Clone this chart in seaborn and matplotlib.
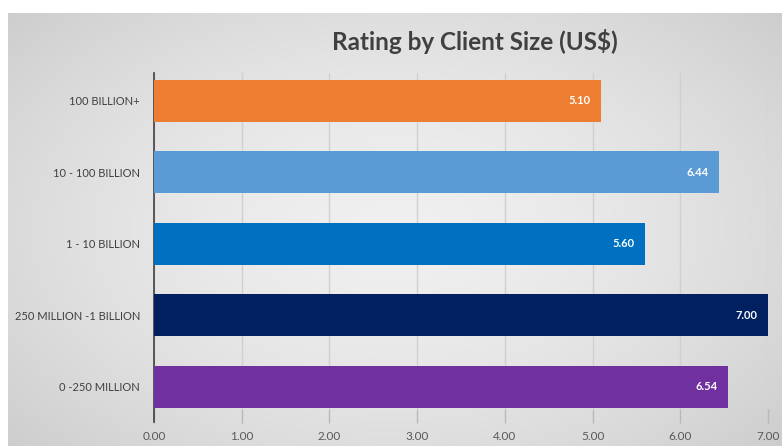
import numpy as np
import pandas as pd
import matplotlib
matplotlib.use("Agg")
import matplotlib.pyplot as plt
import seaborn as sns

categories = ["100 BILLION+", "10 - 100 BILLION", "1 - 10 BILLION",
              "250 MILLION -1 BILLION", "0 -250 MILLION"]
ratings = [5.10, 6.44, 5.60, 7.00, 6.54]
bar_colors = ["#ED7D31", "#5B9BD5", "#0070C0", "#002060", "#7030A0"]
x_ticks = [0, 1, 2, 3, 4, 5, 6, 7]
x_tick_labels = ["0.00", "1.00", "2.00", "3.00", "4.00", "5.00", "6.00", "7.00"]

df = pd.DataFrame({"size": categories, "rating": ratings})

sns.set_theme(style="white")
plt.rcParams["font.family"] = ["Lato", "DejaVu Sans"]

W, H = 782, 446
fig = plt.figure(figsize=(W / 100, H / 100), dpi=100)
fig.patch.set_facecolor("white")

# gray panel with a soft radial gradient, leaving a white strip top and left
bg = fig.add_axes([8 / W, 0, 1 - 8 / W, 1 - 13 / H], zorder=-10)
yy, xx = np.mgrid[-1:1:200j, -1:1:400j]
r = np.sqrt((xx * 0.9) ** 2 + (yy * 0.8) ** 2)
shade = 0.94 - 0.10 * np.clip(r, 0, 1.3) ** 1.6
bg.imshow(np.dstack([shade] * 3), aspect="auto", extent=[0, 1, 0, 1])
bg.axis("off")

ax = fig.add_axes([154 / W, 1 - 409 / H, (768 - 154) / W, (409 - 73) / H])
ax.patch.set_alpha(0)

sns.barplot(data=df, y="size", x="rating", hue="size", palette=bar_colors,
            order=categories, hue_order=categories, legend=False,
            width=0.59, saturation=1, linewidth=0, ax=ax, zorder=3)

ax.set_xlim(0, 7)
ax.set_ylim(4.31, -0.39)
ax.set_xticks(x_ticks)
ax.set_xticklabels(x_tick_labels)
ax.set_xlabel("")
ax.set_ylabel("")
ax.grid(axis="x", color="#d0d0d0", lw=1, zorder=0)

for side in ["top", "right", "bottom"]:
    ax.spines[side].set_visible(False)
ax.spines["left"].set_color("#404040")
ax.spines["left"].set_linewidth(1.2)
ax.spines["left"].set_bounds(4.31 + 0.18, -0.39)
ax.spines["left"].set_clip_on(False)

ax.tick_params(axis="x", which="major", direction="out", length=10,
               width=1, color="#b8b8b8", labelsize=8.5, labelcolor="#595959", pad=6)
ax.tick_params(axis="y", length=0, labelsize=8, labelcolor="#404040", pad=10)
ax.xaxis.set_ticks_position("bottom")
ax.tick_params(axis="x", bottom=True)

for i, v in enumerate(ratings):
    ax.text(v - 0.12, i, f"{v:.2f}", color="white", fontsize=8,
            fontweight="bold", ha="right", va="center", zorder=5)

fig.text(475 / W, 1 - 42 / H, "Rating by Client Size (US$)", ha="center",
         va="center", fontsize=17.5, fontweight="bold", color="#404040")

fig.savefig("out.png", dpi=100)
